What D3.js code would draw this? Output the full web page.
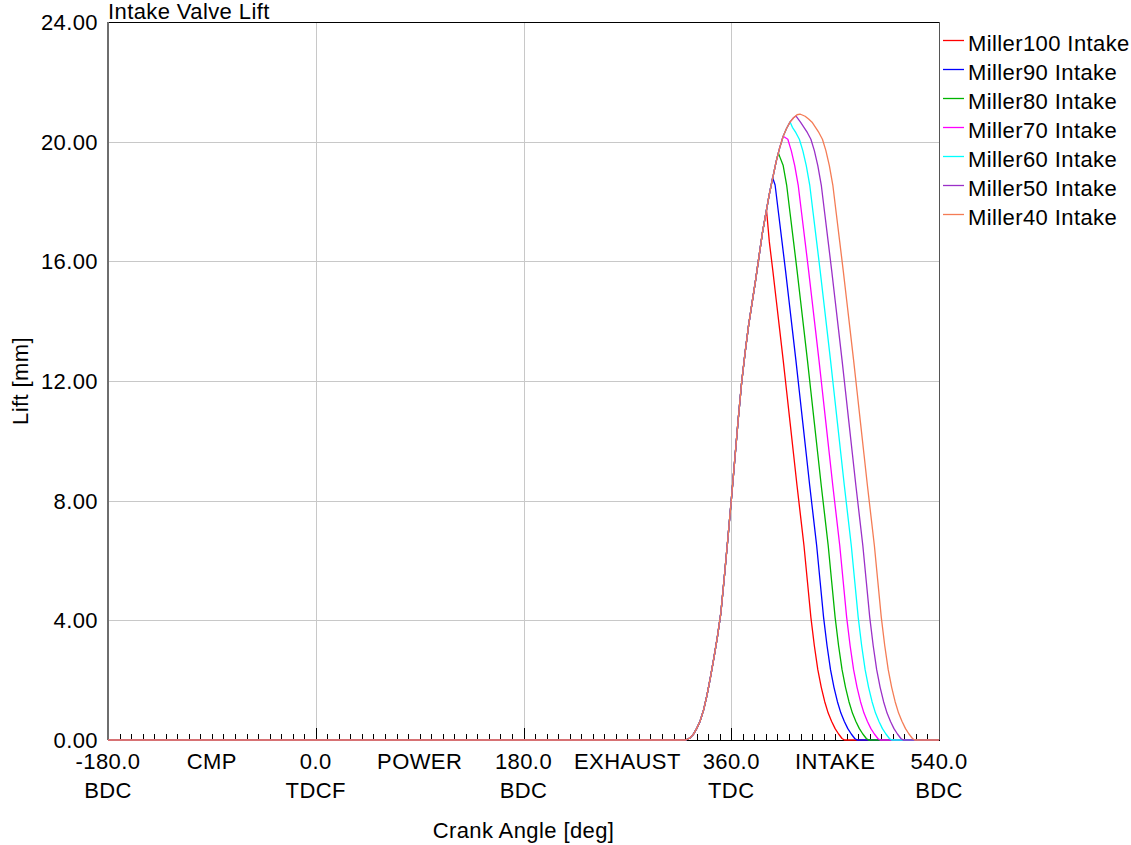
<!DOCTYPE html>
<html>
<head>
<meta charset="utf-8">
<script src="https://cdn.jsdelivr.net/npm/d3@7"></script>
<style>
  html, body { margin: 0; padding: 0; background: #ffffff; }
  svg { display: block; }
  text { font-family: "Liberation Sans", Arial, sans-serif; fill: #000; letter-spacing: 0.4px; }
</style>
</head>
<body>
<svg id="chart" width="1131" height="845"></svg>
<script>
// Crank-angle axis labels (two rows) and cycle-phase labels
const angleTicks = [-180, 0, 180, 360, 540];
const angleTickRow1 = ["-180.0", "0.0", "180.0", "360.0", "540.0"];
const angleTickRow2 = ["BDC", "TDCF", "BDC", "TDC", "BDC"];
const phaseAngles = [-90, 90, 270, 450];
const phaseLabels = ["CMP", "POWER", "EXHAUST", "INTAKE"];
const liftTicks = [0, 4, 8, 12, 16, 20, 24];

const seriesNames = ["Miller100 Intake", "Miller90 Intake", "Miller80 Intake", "Miller70 Intake",
                     "Miller60 Intake", "Miller50 Intake", "Miller40 Intake"];
const seriesColors = ["#ff0000", "#0000ff", "#00b400", "#ff00ff", "#00ffff", "#9b30c8", "#f47c55"];

// Shared opening ramp [deg, mm]
const openingRamp = [[320.5,0],[324,0.06],[327,0.18],[330,0.38],[333,0.63],[336,1.0],[339,1.5],[342,2.1],
  [345,2.75],[348,3.45],[351,4.25],[354,5.45],[357,6.7],[360,8.0],[363,9.35],[366,10.7],[369,11.95],
  [372,12.95],[375,13.85],[378,14.6],[381,15.35],[384,16.15],[387,16.95],[390,17.6],[393,18.25],
  [396,18.8],[399,19.35],[402,19.8],[405,20.18],[408,20.45],[411,20.66],[414,20.8],[417,20.9]];

// Closing flank of each profile, from its peak to seat [deg, mm]
const closingMiller100 = [[390.6,17.7],[393,16.65],[396,15.7],[399,14.7],[402,13.7],[405,12.7],[408,11.65],
  [411,10.6],[414,9.55],[417,8.5],[420,7.5],[423,6.5],[426,5.3],[429,4.1],[432,3.15],[435,2.35],[438,1.76],
  [441,1.28],[444,0.9],[447,0.62],[450,0.38],[453,0.2],[456,0.05],[458,0]];
const closingMiller90 = [[395.8,18.8],[398,18.55],[401,17.6],[404,16.65],[407,15.7],[410,14.7],[413,13.7],
  [416,12.7],[419,11.65],[422,10.6],[425,9.55],[428,8.5],[431,7.5],[434,6.5],[437,5.3],[440,4.1],[443,3.15],
  [446,2.35],[449,1.76],[452,1.28],[455,0.9],[458,0.62],[461,0.38],[464,0.2],[467,0.05],[469,0]];
const closingMiller80 = [[400.8,19.62],[402,19.5],[405,19.2],[408,18.55],[411,17.6],[414,16.65],[417,15.7],
  [420,14.7],[423,13.7],[426,12.7],[429,11.65],[432,10.6],[435,9.55],[438,8.5],[441,7.5],[444,6.5],[447,5.3],
  [450,4.1],[453,3.15],[456,2.35],[459,1.76],[462,1.28],[465,0.9],[468,0.62],[471,0.38],[474,0.2],[477,0.05],[479,0]];
const closingMiller70 = [[405,20.18],[409,20.08],[412,19.7],[415,19.2],[418,18.55],[421,17.6],[424,16.65],
  [427,15.7],[430,14.7],[433,13.7],[436,12.7],[439,11.65],[442,10.6],[445,9.55],[448,8.5],[451,7.5],[454,6.5],
  [457,5.3],[460,4.1],[463,3.15],[466,2.35],[469,1.76],[472,1.28],[475,0.9],[478,0.62],[481,0.38],[484,0.2],
  [487,0.05],[489,0]];
const closingMiller60 = [[411,20.66],[413,20.48],[416,20.3],[419,20.08],[422,19.7],[425,19.2],[428,18.55],
  [431,17.6],[434,16.65],[437,15.7],[440,14.7],[443,13.7],[446,12.7],[449,11.65],[452,10.6],[455,9.55],
  [458,8.5],[461,7.5],[464,6.5],[467,5.3],[470,4.1],[473,3.15],[476,2.35],[479,1.76],[482,1.28],[485,0.9],
  [488,0.62],[491,0.38],[494,0.2],[497,0.05],[499,0]];
const closingMiller50 = [[416,20.86],[420,20.65],[423,20.48],[426,20.3],[429,20.08],[432,19.7],[435,19.2],
  [438,18.55],[441,17.6],[444,16.65],[447,15.7],[450,14.7],[453,13.7],[456,12.7],[459,11.65],[462,10.6],
  [465,9.55],[468,8.5],[471,7.5],[474,6.5],[477,5.3],[480,4.1],[483,3.15],[486,2.35],[489,1.76],[492,1.28],
  [495,0.9],[498,0.62],[501,0.38],[504,0.2],[507,0.05],[509,0]];
const closingMiller40 = [[419.5,20.92],[421,20.9],[424,20.85],[427,20.76],[430,20.65],[433,20.48],[436,20.3],
  [439,20.08],[442,19.7],[445,19.2],[448,18.55],[451,17.6],[454,16.65],[457,15.7],[460,14.7],[463,13.7],
  [466,12.7],[469,11.65],[472,10.6],[475,9.55],[478,8.5],[481,7.5],[484,6.5],[487,5.3],[490,4.1],[493,3.15],
  [496,2.35],[499,1.76],[502,1.28],[505,0.9],[508,0.62],[511,0.38],[514,0.2],[517,0.05],[519,0]];
const closingFlanks = [closingMiller100, closingMiller90, closingMiller80, closingMiller70,
                       closingMiller60, closingMiller50, closingMiller40];

const svg = d3.select("#chart");
const plot = { left: 108, right: 939, top: 22, bottom: 740 };
const fontSize = 22;

const x = d3.scaleLinear().domain([-180, 540]).range([plot.left, plot.right]);
const y = d3.scaleLinear().domain([0, 24]).range([plot.bottom, plot.top]);

// Grid
const grid = svg.append("g").attr("shape-rendering", "crispEdges");
grid.selectAll("line.h").data(liftTicks.filter(v => v > 0 && v < 24)).enter().append("line")
  .attr("x1", plot.left).attr("x2", plot.right)
  .attr("y1", d => Math.round(y(d)) + 0.5).attr("y2", d => Math.round(y(d)) + 0.5)
  .attr("stroke", "#c8c8c8").attr("stroke-width", 1);
grid.selectAll("line.v").data([0, 180, 360]).enter().append("line")
  .attr("x1", d => Math.round(x(d)) + 0.5).attr("x2", d => Math.round(x(d)) + 0.5)
  .attr("y1", plot.top).attr("y2", plot.bottom)
  .attr("stroke", "#c8c8c8").attr("stroke-width", 1);

// Minor / major crank angle ticks, pointing into the plot
const tickAngles = d3.range(-170, 540, 10);
const ticks = svg.append("g").attr("shape-rendering", "crispEdges");
ticks.selectAll("line").data(tickAngles).enter().append("line")
  .attr("x1", d => Math.round(x(d)) + 0.5).attr("x2", d => Math.round(x(d)) + 0.5)
  .attr("y1", plot.bottom)
  .attr("y2", d => plot.bottom - (d % 180 === 0 ? 12 : 6))
  .attr("stroke", "#000").attr("stroke-width", 1);

// Frame
const frame = svg.append("g").attr("shape-rendering", "crispEdges");
frame.append("line").attr("x1", plot.left).attr("x2", plot.right + 1).attr("y1", plot.top + 0.5).attr("y2", plot.top + 0.5)
  .attr("stroke", "#000");
frame.append("line").attr("x1", plot.left).attr("x2", plot.left).attr("y1", plot.top).attr("y2", plot.bottom)
  .attr("stroke", "#6e6e6e").attr("stroke-width", 2);
frame.append("line").attr("x1", plot.right + 0.5).attr("x2", plot.right + 0.5).attr("y1", plot.top).attr("y2", plot.bottom)
  .attr("stroke", "#555").attr("stroke-width", 1);
frame.append("line").attr("x1", plot.left).attr("x2", plot.right + 1).attr("y1", plot.bottom + 0.5).attr("y2", plot.bottom + 0.5)
  .attr("stroke", "#000");

// Series: zero lift outside the valve event
const series = seriesNames.map((name, i) => {
  const flank = closingFlanks[i];
  const peakDeg = flank[0][0];
  const pts = [[-180, 0]]
    .concat(openingRamp.filter(p => p[0] < peakDeg))
    .concat(flank)
    .concat([[540, 0]]);
  return { name, color: seriesColors[i], pts };
});

const line = d3.line().x(d => x(d[0])).y(d => y(d[1]));
svg.append("g").selectAll("path").data(series).enter().append("path")
  .attr("d", d => line(d.pts))
  .attr("fill", "none")
  .attr("stroke", d => d.color)
  .attr("stroke-width", 1.3)
  .attr("stroke-linejoin", "round");

// Lift axis labels
svg.append("g").selectAll("text").data(liftTicks).enter().append("text")
  .attr("x", 98).attr("y", d => y(d))
  .attr("dy", "0.36em")
  .attr("text-anchor", "end")
  .attr("font-size", fontSize)
  .text(d => d.toFixed(2));

// Crank angle labels
const xl = svg.append("g").attr("font-size", fontSize).attr("text-anchor", "middle");
xl.selectAll("text.r1").data(angleTicks).enter().append("text")
  .attr("x", d => x(d)).attr("y", 769).text((d, i) => angleTickRow1[i]);
xl.selectAll("text.r2").data(angleTicks).enter().append("text")
  .attr("x", d => x(d)).attr("y", 798).text((d, i) => angleTickRow2[i]);
xl.selectAll("text.ph").data(phaseAngles).enter().append("text")
  .attr("x", d => x(d)).attr("y", 769).text((d, i) => phaseLabels[i]);

// Titles
svg.append("text").attr("x", plot.left).attr("y", 19).attr("font-size", fontSize).text("Intake Valve Lift");
svg.append("text").attr("x", (plot.left + plot.right) / 2).attr("y", 838)
  .attr("text-anchor", "middle").attr("font-size", fontSize).text("Crank Angle [deg]");
svg.append("text").attr("transform", `translate(28,${(plot.top + plot.bottom) / 2}) rotate(-90)`)
  .attr("text-anchor", "middle").attr("font-size", fontSize).text("Lift [mm]");

// Legend
const legend = svg.append("g").selectAll("g").data(series).enter().append("g")
  .attr("transform", (d, i) => `translate(943,${40 + i * 29})`);
legend.append("line").attr("x1", 0).attr("x2", 21).attr("y1", 0.5).attr("y2", 0.5)
  .attr("stroke", d => d.color).attr("stroke-width", 1.3);
legend.append("text").attr("x", 25).attr("y", 3).attr("dy", "0.36em")
  .attr("font-size", fontSize).text(d => d.name);
</script>
</body>
</html>
